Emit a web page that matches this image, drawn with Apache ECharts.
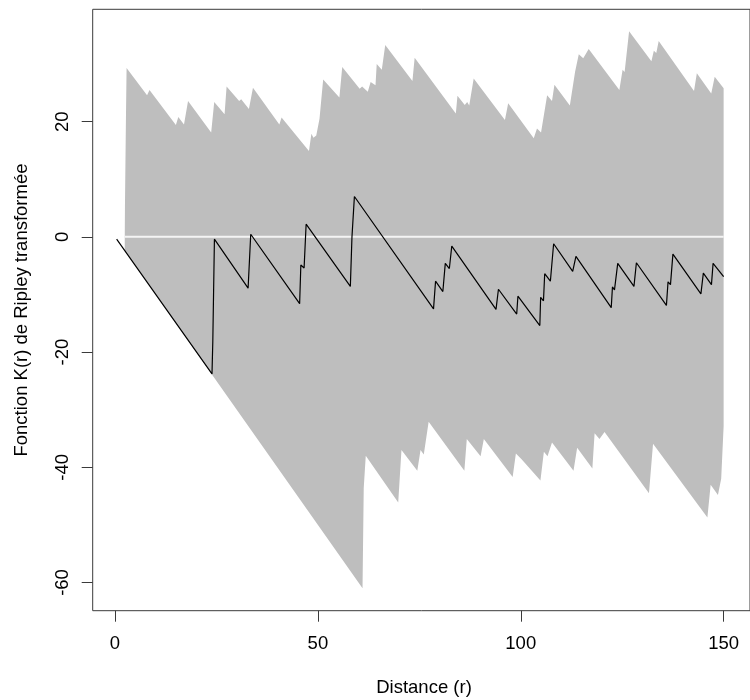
<!DOCTYPE html>
<html>
<head>
<meta charset="utf-8">
<script src="https://cdn.jsdelivr.net/npm/echarts@6/dist/echarts.min.js"></script>
<style>html,body{margin:0;padding:0;background:#fff}#c{width:750px;height:700px}</style>
</head>
<body>
<div id="c"></div>
<script>
// Observed transformed Ripley K (L(r) - r)
const obsR = [0.4, 23.9, 24.1, 24.3, 24.5, 32.8, 33.45, 45.5, 45.8, 46.6, 47.1, 58.0, 58.4, 59.0, 78.5, 79.0, 80.8, 81.4, 82.4, 83.0, 93.9, 94.5, 99.0, 99.3, 104.7, 104.9, 105.6, 105.9, 107.3, 108.1, 112.8, 113.6, 122.3, 122.6, 123.1, 123.9, 127.9, 128.5, 135.9, 136.3, 136.9, 137.5, 144.4, 145.0, 147.0, 147.4, 150.0];
const obsK = [-0.4, -23.8, -18.2, -18.3, -0.4, -8.9, 0.45, -11.6, -4.9, -5.4, 2.2, -8.6, 0.0, 7.0, -12.5, -7.7, -9.5, -4.6, -5.5, -1.6, -12.6, -9.1, -13.4, -10.3, -15.4, -10.5, -11.1, -6.4, -7.7, -1.2, -6.0, -3.4, -12.3, -8.7, -9.2, -4.6, -8.6, -4.5, -11.9, -7.8, -8.3, -3.0, -9.9, -6.3, -8.3, -4.6, -6.9];

// Upper envelope
const upR = [2.4, 2.45, 2.7, 2.85, 7.9, 8.5, 15.0, 15.6, 17.0, 18.0, 23.7, 24.45, 27.0, 27.5, 30.6, 31.1, 33.0, 34.0, 40.5, 41.05, 47.8, 48.4, 48.9, 49.6, 50.4, 51.3, 55.3, 56.0, 60.3, 60.9, 62.3, 63.0, 64.2, 64.5, 65.75, 66.6, 73.3, 73.85, 84.0, 84.4, 86.2, 86.8, 87.3, 88.4, 96.1, 96.9, 103.2, 104.0, 105.0, 106.5, 107.7, 108.3, 112.1, 113.4, 114.3, 115.4, 116.75, 124.3, 125.1, 125.6, 126.7, 132.2, 132.8, 133.4, 134.0, 142.7, 143.4, 146.95, 147.8, 150.0];
const upK = [0, 5.5, 21.0, 29.3, 24.6, 25.5, 19.4, 20.8, 19.5, 23.6, 18.1, 23.4, 21.3, 26.1, 23.6, 23.9, 22.2, 25.9, 19.5, 20.7, 14.9, 17.9, 17.2, 17.6, 20.5, 27.3, 24.2, 29.5, 25.7, 26.1, 25.2, 26.9, 26.3, 30.0, 29.0, 33.3, 27.05, 31.1, 21.4, 24.5, 22.9, 23.4, 22.8, 27.5, 20.3, 23.2, 17.1, 18.8, 18.1, 24.6, 23.6, 26.4, 22.8, 28.7, 31.7, 31.0, 32.6, 25.5, 29.0, 28.6, 35.7, 30.5, 32.3, 31.9, 34.0, 25.3, 28.4, 24.9, 27.8, 25.8];

// Lower envelope
const loR = [2.4, 61.0, 61.3, 61.8, 69.8, 70.6, 74.5, 75.3, 76.1, 77.3, 86.1, 86.7, 90.1, 90.9, 98.0, 98.8, 100.2, 104.85, 105.7, 106.6, 107.7, 113.0, 113.9, 117.65, 118.2, 119.4, 120.65, 131.6, 132.6, 146.0, 146.8, 148.6, 149.4, 150.0];
const loK = [-2.4, -61.0, -43.6, -38.0, -46.1, -37.0, -40.6, -37.0, -37.8, -32.1, -40.6, -35.1, -38.1, -35.1, -41.7, -37.6, -38.6, -42.3, -37.3, -38.1, -35.7, -40.6, -36.6, -40.2, -34.1, -35.1, -33.9, -44.5, -35.9, -48.7, -43.05, -44.8, -42.0, -32.9];

// Theoretical line
const theoR = [2.4, 150];
const theoK = [0, 0];

const xTicks = [0, 50, 100, 150];
const yTicks = [-60, -40, -20, 0, 20];

const xTitle = 'Distance (r)';
const yTitle = 'Fonction K(r) de Ripley transformée';

const FONT = '"Liberation Sans", Arial, sans-serif';
const FS = 18.5;

const chart = echarts.init(document.getElementById('c'), null, {renderer: 'canvas'});
const pairs = (a, b) => a.map((v, i) => [v, b[i]]);

chart.setOption({
  animation: false,
  backgroundColor: '#ffffff',
  grid: {
    left: 92.7, top: 9.3, width: 667, height: 601.4,
    show: true, borderColor: '#3a3a3a', borderWidth: 1, backgroundColor: 'transparent'
  },
  xAxis: {
    type: 'value', min: -5.5, max: 156.5, position: 'bottom',
    axisLine: {show: false, onZero: false},
    splitLine: {show: false},
    axisTick: {show: true, customValues: xTicks, length: 11, lineStyle: {color: '#3a3a3a', width: 1}},
    axisLabel: {customValues: xTicks, fontSize: FS, fontFamily: FONT, color: '#000', margin: 24}
  },
  yAxis: {
    type: 'value', min: -64.9, max: 39.5, position: 'left',
    axisLine: {show: false, onZero: false},
    splitLine: {show: false},
    axisTick: {show: true, customValues: yTicks, length: 11, lineStyle: {color: '#3a3a3a', width: 1}},
    axisLabel: {customValues: yTicks, fontSize: FS, fontFamily: FONT, color: '#000', margin: 20, rotate: 90}
  },
  graphic: [
    {type: 'text', x: 424, y: 688, style: {text: xTitle, fontSize: FS, fontFamily: FONT, fill: '#000', align: 'center', verticalAlign: 'middle'}},
    {type: 'text', x: 21.7, y: 310, rotation: Math.PI / 2, style: {text: yTitle, fontSize: FS, fontFamily: FONT, fill: '#000', align: 'center', verticalAlign: 'middle'}}
  ],
  series: [
    {
      type: 'custom',
      clip: true,
      data: [[75, 0]],
      z: 1,
      renderItem: function (params, api) {
        const pts = [];
        for (let i = 0; i < upR.length; i++) pts.push(api.coord([upR[i], upK[i]]));
        for (let i = loR.length - 1; i >= 0; i--) pts.push(api.coord([loR[i], loK[i]]));
        return {type: 'polygon', shape: {points: pts}, style: {fill: '#bebebe', stroke: null}};
      }
    },
    {
      type: 'line', data: pairs(theoR, theoK), symbol: 'none', z: 2,
      lineStyle: {color: '#f4f4f4', width: 2}
    },
    {
      type: 'line', data: pairs(obsR, obsK), symbol: 'none', z: 3,
      lineStyle: {color: '#000', width: 1.2}
    }
  ]
});
</script>
</body>
</html>
